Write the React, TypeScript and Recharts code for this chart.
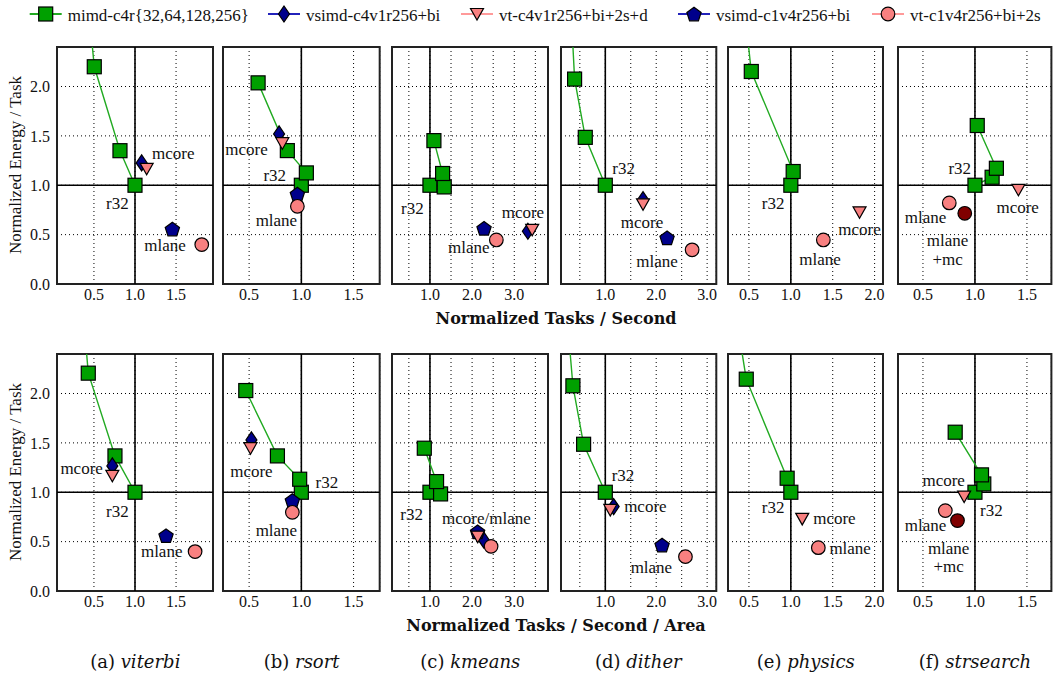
import React from 'react'
import {
  ScatterChart,
  Scatter,
  XAxis,
  YAxis,
  CartesianGrid,
  ReferenceLine,
  ReferenceArea,
  ReferenceDot,
} from 'recharts'

type Pt = [number, number] | null

const BENCHMARKS = ['viterbi', 'rsort', 'kmeans', 'dither', 'physics', 'strsearch']
const SERIES_NAMES = [
  'mimd-c4r{32,64,128,256}',
  'vsimd-c4v1r256+bi',
  'vt-c4v1r256+bi+2s+d',
  'vsimd-c1v4r256+bi',
  'vt-c1v4r256+bi+2s',
]

// [tasks/second, energy/task], normalized to mimd-c4r32; mimd rows go r32, r64, r128, r256
const MIMD_TPUT: [number, number][][] = [
  [[1, 1], [0.817, 1.35], [0.504, 2.2], [0.424, 2.9]],
  [[1, 1], [1.048, 1.125], [0.866, 1.351], [0.586, 2.037]],
  [[1, 1], [1.339, 0.983], [1.3, 1.119], [1.094, 1.452]],
  [[1, 1], [0.607, 1.485], [0.397, 2.075], [0.315, 2.9]],
  [[1, 1], [1.028, 1.139], [0.528, 2.152], [0.432, 2.9]],
  [[1, 1], [1.165, 1.081], [1.206, 1.172], [1.022, 1.605]],
]
const VSIMD_C4_TPUT: Pt[] = [[1.081, 1.226], [0.787, 1.52], [3.323, 0.534], [1.741, 0.854], null, null]
const VT_C4_TPUT: Pt[] = [[1.142, 1.166], [0.818, 1.426], [3.425, 0.548], [1.741, 0.807], [1.82, 0.726], [1.418, 0.953]]
const VSIMD_C1_TPUT: Pt[] = [[1.455, 0.557], [0.962, 0.912], [2.283, 0.565], [2.213, 0.468], null, null]
const VT_C1_TPUT: Pt[] = [[1.813, 0.399], [0.962, 0.787], [2.575, 0.446], [2.705, 0.346], [1.388, 0.446], [0.753, 0.821]]
const VT_C1_MC_TPUT: Pt[] = [null, null, null, null, null, [0.902, 0.716]]

// [tasks/second/area, energy/task]
const MIMD_AREA: [number, number][][] = [
  [[1, 1], [0.756, 1.368], [0.431, 2.206], [0.36, 2.9]],
  [[1, 1], [0.984, 1.132], [0.771, 1.368], [0.468, 2.03]],
  [[1, 1], [1.252, 0.983], [1.157, 1.108], [0.866, 1.446]],
  [[1, 1], [0.574, 1.486], [0.364, 2.078], [0.229, 2.9]],
  [[1, 1], [0.956, 1.142], [0.468, 2.145], [0.326, 2.9]],
  [[1, 1], [1.085, 1.084], [1.063, 1.176], [0.81, 1.608]],
]
const VSIMD_C4_AREA: Pt[] = [[0.724, 1.267], [0.522, 1.53], [2.275, 0.517], [1.164, 0.855], null, null]
const VT_C4_AREA: Pt[] = [[0.724, 1.166], [0.513, 1.446], [2.134, 0.55], [1.098, 0.821], [1.136, 0.73], [0.896, 0.956]]
const VSIMD_C1_AREA: Pt[] = [[1.378, 0.561], [0.914, 0.916], [2.13, 0.6], [2.115, 0.466], null, null]
const VT_C1_AREA: Pt[] = [[1.732, 0.399], [0.914, 0.797], [2.45, 0.452], [2.574, 0.348], [1.328, 0.439], [0.715, 0.814]]
const VT_C1_MC_AREA: Pt[] = [null, null, null, null, null, [0.832, 0.713]]

const X_DOMAINS: [number, number][] = [[0.05, 1.95], [0.25, 1.75], [0.1, 3.8], [0.13, 3.18], [0.25, 2.1], [0.26, 1.735]]
const X_TICKS = [
  [0.5, 1, 1.5],
  [0.5, 1, 1.5],
  [0.5, 1, 1.5, 2, 2.5, 3, 3.5],
  [0.5, 1, 1.5, 2, 2.5, 3],
  [0.5, 1, 1.5, 2],
  [0.5, 1, 1.5],
]
const Y_TICKS = [0, 0.5, 1, 1.5, 2]

// annotation text placed in data space
type Note = [string, number, number]
const TPUT_NOTES: Note[][] = [
  [['mcore', 1.467, 1.318], ['r32', 0.785, 0.811], ['mlane', 1.366, 0.389]],
  [['mcore', 0.475, 1.358], ['r32', 0.745, 1.098], ['mlane', 0.761, 0.642]],
  [['r32', 0.583, 0.762], ['mcore', 3.205, 0.728], ['mlane', 1.921, 0.371]],
  [['r32', 1.361, 1.169], ['mcore', 1.721, 0.627], ['mlane', 2.016, 0.231]],
  [['r32', 0.788, 0.818], ['mcore', 1.82, 0.547], ['mlane', 1.348, 0.253]],
  [['r32', 0.854, 1.166], ['mcore', 1.411, 0.777], ['mlane', 0.525, 0.669], ['mlane', 0.737, 0.439], ['+mc', 0.737, 0.253]],
]
const AREA_NOTES: Note[][] = [
  [['mcore', 0.35, 1.243], ['r32', 0.785, 0.804], ['mlane', 1.325, 0.399]],
  [['mcore', 0.522, 1.209], ['r32', 1.245, 1.098], ['mlane', 0.761, 0.611]],
  [['r32', 0.567, 0.77], ['mcore/mlane', 2.339, 0.736]],
  [['r32', 1.348, 1.166], ['mcore', 1.787, 0.855], ['mlane', 1.905, 0.236]],
  [['r32', 0.788, 0.848], ['mcore', 1.52, 0.73], ['mlane', 1.708, 0.426]],
  [['mcore', 0.699, 1.118], ['r32', 1.158, 0.814], ['mlane', 0.525, 0.659], ['mlane', 0.747, 0.432], ['+mc', 0.747, 0.247]],
]

const GREEN = '#00a000'
const GREEN_LINE = '#22aa22'
const BLUE = '#00008b'
const PINK = '#f88080'
const DARK_RED = '#800000'
const SERIF = '"Liberation Serif", "Times New Roman", serif'
const WIDE_SERIF = '"DejaVu Serif", serif'

// plot rectangles
const PLOT_LEFT = [57.3, 223.3, 392.3, 560.7, 728.3, 898.3]
const PLOT_WIDTH = [156, 156.7, 156, 155.3, 155, 153.4]
const ROW_TOP = [46.7, 354]
const PLOT_H = 237
const AXIS_W = 50
const PAD_T = 8
const PAD_R = 8
const AXIS_H = 30

const SquareMark = (p: any) => (
  <rect x={p.cx - 7} y={p.cy - 7} width={14} height={14} fill={p.fill} stroke="#000" strokeWidth={1.2} />
)
const DiamondMark = (p: any) => (
  <polygon
    points={`${p.cx},${p.cy - 8} ${p.cx + 5.5},${p.cy} ${p.cx},${p.cy + 8} ${p.cx - 5.5},${p.cy}`}
    fill={p.fill}
    stroke="#000"
    strokeWidth={1.2}
  />
)
const TriDownMark = (p: any) => (
  <polygon
    points={`${p.cx - 6.5},${p.cy - 5.5} ${p.cx + 6.5},${p.cy - 5.5} ${p.cx},${p.cy + 6}`}
    fill={p.fill}
    stroke="#000"
    strokeWidth={1.2}
  />
)
const pentagonPoints = (cx: number, cy: number, r: number) =>
  [0, 1, 2, 3, 4]
    .map((k) => {
      const a = ((-90 + k * 72) * Math.PI) / 180
      return `${cx + r * Math.cos(a)},${cy + r * Math.sin(a) + 0.8}`
    })
    .join(' ')
const PentagonMark = (p: any) => (
  <polygon points={pentagonPoints(p.cx, p.cy, 7.5)} fill={p.fill} stroke="#000" strokeWidth={1.2} />
)
const CircleMark = (p: any) => <circle cx={p.cx} cy={p.cy} r={6.8} fill={p.fill} stroke="#000" strokeWidth={1.2} />

const toRows = (pts: [number, number][]) => pts.map(([x, y]) => ({ x, y }))
const one = (pt: Pt) => (pt ? [{ x: pt[0], y: pt[1] }] : null)

function Panel({ col, row }: { col: number; row: number }) {
  const top = row === 0
  const mimd = top ? MIMD_TPUT[col] : MIMD_AREA[col]
  const vsC4 = one(top ? VSIMD_C4_TPUT[col] : VSIMD_C4_AREA[col])
  const vtC4 = one(top ? VT_C4_TPUT[col] : VT_C4_AREA[col])
  const vsC1 = one(top ? VSIMD_C1_TPUT[col] : VSIMD_C1_AREA[col])
  const vtC1 = one(top ? VT_C1_TPUT[col] : VT_C1_AREA[col])
  const vtMc = one(top ? VT_C1_MC_TPUT[col] : VT_C1_MC_AREA[col])
  const notes = top ? TPUT_NOTES[col] : AREA_NOTES[col]
  const [lo, hi] = X_DOMAINS[col]
  const w = PLOT_WIDTH[col] + AXIS_W + PAD_R
  const h = PLOT_H + PAD_T + AXIS_H
  const tickStyle = { fontSize: 16, fill: '#111', fontFamily: SERIF }
  return (
    <div style={{ position: 'absolute', left: PLOT_LEFT[col] - AXIS_W, top: ROW_TOP[row] - PAD_T }}>
      <ScatterChart width={w} height={h} margin={{ top: PAD_T, right: PAD_R, bottom: 0, left: 0 }}>
        <CartesianGrid stroke="#000" strokeDasharray="1 3" />
        <XAxis
          type="number"
          dataKey="x"
          domain={[lo, hi]}
          ticks={X_TICKS[col]}
          interval={0}
          allowDataOverflow
          height={AXIS_H}
          axisLine={false}
          tickLine={false}
          tickSize={3}
          tickMargin={2}
          tick={tickStyle}
          tickFormatter={(v: number) => (col === 2 || col === 3 ? (Number.isInteger(v) ? v.toFixed(1) : '') : v.toFixed(1))}
        />
        <YAxis
          type="number"
          dataKey="y"
          domain={[0, 2.4]}
          ticks={Y_TICKS}
          interval={0}
          allowDataOverflow
          width={AXIS_W}
          axisLine={false}
          tickLine={false}
          tickSize={5}
          tickMargin={2}
          tick={tickStyle}
          tickFormatter={(v: number) => (col === 0 ? v.toFixed(1) : '')}
        />
        <ReferenceLine x={1} stroke="#000" strokeWidth={1.6} />
        <ReferenceLine y={1} stroke="#000" strokeWidth={1.6} />
        <ReferenceArea x1={lo} x2={hi} y1={0} y2={2.4} fill="none" fillOpacity={0} stroke="#222" strokeWidth={2} ifOverflow="visible" />
        <Scatter
          name={SERIES_NAMES[0]}
          data={toRows(mimd)}
          fill={GREEN}
          line={{ stroke: GREEN_LINE, strokeWidth: 1.4 }}
          shape={SquareMark}
          isAnimationActive={false}
        />
        {vsC4 && <Scatter name={SERIES_NAMES[1]} data={vsC4} fill={BLUE} shape={DiamondMark} isAnimationActive={false} />}
        {vsC1 && <Scatter name={SERIES_NAMES[3]} data={vsC1} fill={BLUE} shape={PentagonMark} isAnimationActive={false} />}
        {vtC4 && <Scatter name={SERIES_NAMES[2]} data={vtC4} fill={PINK} shape={TriDownMark} isAnimationActive={false} />}
        {vtC1 && <Scatter name={SERIES_NAMES[4]} data={vtC1} fill={PINK} shape={CircleMark} isAnimationActive={false} />}
        {vtMc && <Scatter name="mlane+mc" data={vtMc} fill={DARK_RED} shape={CircleMark} isAnimationActive={false} />}
        {notes.map(([text, x, y], i) => (
          <ReferenceDot
            key={i}
            x={x}
            y={y}
            r={0}
            ifOverflow="visible"
            shape={(p: any) => (
              <text
                x={p.cx}
                y={p.cy}
                textAnchor="middle"
                dominantBaseline="central"
                fontSize={17}
                fontFamily={SERIF}
                fill="#111"
              >
                {text}
              </text>
            )}
          />
        ))}
      </ScatterChart>
    </div>
  )
}

function LegendKey({ x, kind, color, lineColor }: { x: number; kind: string; color: string; lineColor: string }) {
  const cy = 14
  const p = { cx: x, cy, fill: color }
  return (
    <g>
      <line x1={x - 16} x2={x + 16} y1={cy} y2={cy} stroke={lineColor} strokeWidth={2} />
      {kind === 'square' && <SquareMark {...p} />}
      {kind === 'diamond' && <DiamondMark {...p} />}
      {kind === 'tri' && <TriDownMark {...p} />}
      {kind === 'pent' && <PentagonMark {...p} />}
      {kind === 'circle' && <CircleMark {...p} />}
    </g>
  )
}

const LEGEND_X = [45.7, 284, 477, 694, 888]
const LEGEND_KIND = ['square', 'diamond', 'tri', 'pent', 'circle']
const LEGEND_FILL = [GREEN, BLUE, PINK, BLUE, PINK]
const LEGEND_LINE = [GREEN_LINE, '#2222bb', '#ff9a9a', '#2222bb', '#ff9a9a']

export default function App() {
  return (
    <div style={{ position: 'absolute', left: 0, top: 0, width: 1053, height: 677, background: '#fff', overflow: 'hidden' }}>
      {[0, 1].map((row) => BENCHMARKS.map((_, col) => <Panel key={`${row}-${col}`} col={col} row={row} />))}
      <svg width={1053} height={677} style={{ position: 'absolute', left: 0, top: 0, pointerEvents: 'none' }}>
        {SERIES_NAMES.map((name, i) => (
          <g key={name}>
            <LegendKey x={LEGEND_X[i]} kind={LEGEND_KIND[i]} color={LEGEND_FILL[i]} lineColor={LEGEND_LINE[i]} />
            <text x={LEGEND_X[i] + 22} y={15} dominantBaseline="central" fontSize={17} fontFamily={SERIF} fill="#111">
              {name}
            </text>
          </g>
        ))}
        <text x={15} y={165} transform="rotate(-90 15 165)" textAnchor="middle" dominantBaseline="central" fontSize={17} fontFamily={SERIF} fill="#111">
          Normalized Energy / Task
        </text>
        <text x={15} y={472} transform="rotate(-90 15 472)" textAnchor="middle" dominantBaseline="central" fontSize={17} fontFamily={SERIF} fill="#111">
          Normalized Energy / Task
        </text>
        <text x={556} y={318} textAnchor="middle" dominantBaseline="central" fontSize={16} fontFamily={WIDE_SERIF} fontWeight={600} fill="#111">
          Normalized Tasks / Second
        </text>
        <text x={556} y={625} textAnchor="middle" dominantBaseline="central" fontSize={16} fontFamily={WIDE_SERIF} fontWeight={600} fill="#111">
          Normalized Tasks / Second / Area
        </text>
        {BENCHMARKS.map((b, col) => (
          <text
            key={b}
            x={PLOT_LEFT[col] + PLOT_WIDTH[col] / 2}
            y={661}
            textAnchor="middle"
            dominantBaseline="central"
            fontSize={18}
            fontFamily={WIDE_SERIF}
            fill="#111"
          >
            ({'abcdef'[col]}) <tspan fontStyle="italic">{b}</tspan>
          </text>
        ))}
      </svg>
    </div>
  )
}
